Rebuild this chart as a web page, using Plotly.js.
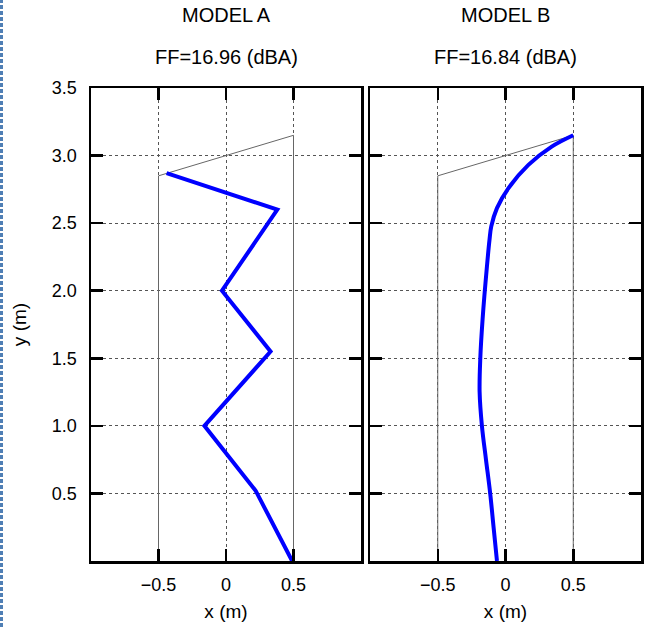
<!DOCTYPE html>
<html>
<head>
<meta charset="utf-8">
<script src="https://cdn.plot.ly/plotly-3.0.1.min.js"></script>
<style>html,body{margin:0;padding:0;background:#fff;}#chart{width:648px;height:627px;}</style>
</head>
<body>
<div id="chart"></div>
<script>
// Panel titles
const panelTitles = ["MODEL A", "MODEL B"];
const ffLabels = ["FF=16.96 (dBA)", "FF=16.84 (dBA)"];

// Gray outline (cross-section)
const outlineX = [-0.5, -0.5, 0.5, 0.5];
const outlineY = [0, 2.85, 3.15, 0];

// Model A profile
const modelAX = [0.49, 0.22, -0.16, 0.33, -0.03, 0.38, -0.44];
const modelAY = [0.0, 0.52, 1.0, 1.55, 2.0, 2.6, 2.87];

// Model B profile
const modelBX = [-0.063, -0.088, -0.113, -0.144, -0.174, -0.191, -0.186, -0.169, -0.137, -0.118, -0.105, -0.063, 0.022, 0.169, 0.341, 0.5];
const modelBY = [0.0, 0.25, 0.5, 0.75, 1.0, 1.25, 1.5, 1.79, 2.18, 2.377, 2.476, 2.611, 2.759, 2.931, 3.066, 3.15];

// Tick labels
const xTickVals = [-0.5, 0, 0.5];
const xTickText = ["\u22120.5", "0", "0.5"];
const yTickVals = [0.5, 1.0, 1.5, 2.0, 2.5, 3.0, 3.5];
const yTickText = ["0.5", "1.0", "1.5", "2.0", "2.5", "3.0", "3.5"];

const FONT = "Liberation Sans, Arial, sans-serif";

const traces = [
  {x: outlineX, y: outlineY, xaxis: "x", yaxis: "y", mode: "lines", line: {color: "#666", width: 1}, hoverinfo: "skip"},
  {x: modelAX, y: modelAY, xaxis: "x", yaxis: "y", mode: "lines", line: {color: "#0000ff", width: 4}},
  {x: outlineX, y: outlineY, xaxis: "x2", yaxis: "y2", mode: "lines", line: {color: "#666", width: 1}, hoverinfo: "skip"},
  {x: modelBX, y: modelBY, xaxis: "x2", yaxis: "y2", mode: "lines", line: {color: "#0000ff", width: 4, shape: "spline", smoothing: 1}}
];

const xCommon = {
  range: [-1, 1], tickvals: xTickVals, ticktext: xTickText,
  ticks: "inside", ticklen: 12, tickwidth: 2.5, tickcolor: "#000",
  showline: true, linewidth: 2.5, linecolor: "#000", mirror: "ticks",
  showgrid: true, gridcolor: "#555", gridwidth: 1, griddash: "3px,3px",
  zeroline: false, tickfont: {family: FONT, size: 18, color: "#000"},
  ticklabelstandoff: 6,
  title: {text: "x (m)", font: {family: FONT, size: 19, color: "#000"}, standoff: 11}
};
const yCommon = {
  range: [0, 3.5], tickvals: yTickVals, ticktext: yTickText,
  ticks: "inside", ticklen: 12, tickwidth: 2.5, tickcolor: "#000",
  showline: true, linewidth: 2.5, linecolor: "#000", mirror: "ticks",
  showgrid: true, gridcolor: "#555", gridwidth: 1, griddash: "3px,3px",
  zeroline: false, tickfont: {family: FONT, size: 18, color: "#000"},
  ticklabelstandoff: 8
};

const L = 91, R = 7, T = 88, B = 66;
const plotW = 648 - L - R;
const d1 = (361 - L) / plotW;
const d2 = (370 - L) / plotW;

const layout = {
  width: 648, height: 627,
  margin: {l: L, r: R, t: T, b: B},
  paper_bgcolor: "#fff", plot_bgcolor: "#fff",
  showlegend: false,
  font: {family: FONT, color: "#000"},
  xaxis: Object.assign({}, xCommon, {domain: [0, d1], anchor: "y"}),
  xaxis2: Object.assign({}, xCommon, {domain: [d2, 1], anchor: "y2"}),
  yaxis: Object.assign({}, yCommon, {domain: [0, 1], anchor: "x",
    title: {text: "y (m)", font: {family: FONT, size: 19, color: "#000"}, standoff: 20}}),
  yaxis2: Object.assign({}, yCommon, {domain: [0, 1], anchor: "x2", showticklabels: false}),
  annotations: [
    {text: panelTitles[0], xref: "x domain", yref: "paper", x: 0.5, y: 1, yshift: 73, showarrow: false, font: {family: FONT, size: 20}, yanchor: "middle"},
    {text: ffLabels[0], xref: "x domain", yref: "paper", x: 0.5, y: 1, yshift: 31, showarrow: false, font: {family: FONT, size: 20}, yanchor: "middle"},
    {text: panelTitles[1], xref: "x2 domain", yref: "paper", x: 0.5, y: 1, yshift: 73, showarrow: false, font: {family: FONT, size: 20}, yanchor: "middle"},
    {text: ffLabels[1], xref: "x2 domain", yref: "paper", x: 0.5, y: 1, yshift: 31, showarrow: false, font: {family: FONT, size: 20}, yanchor: "middle"}
  ],
  shapes: [
    {type: "line", xref: "paper", yref: "paper", x0: (1.5 - L) / plotW, x1: (1.5 - L) / plotW,
     y0: -B / (627 - T - B), y1: (627 - B) / (627 - T - B),
     line: {color: "#4f7fb5", width: 3, dash: "4px,2px"}}
  ]
};

Plotly.newPlot("chart", traces, layout, {displayModeBar: false, staticPlot: true});
</script>
</body>
</html>
